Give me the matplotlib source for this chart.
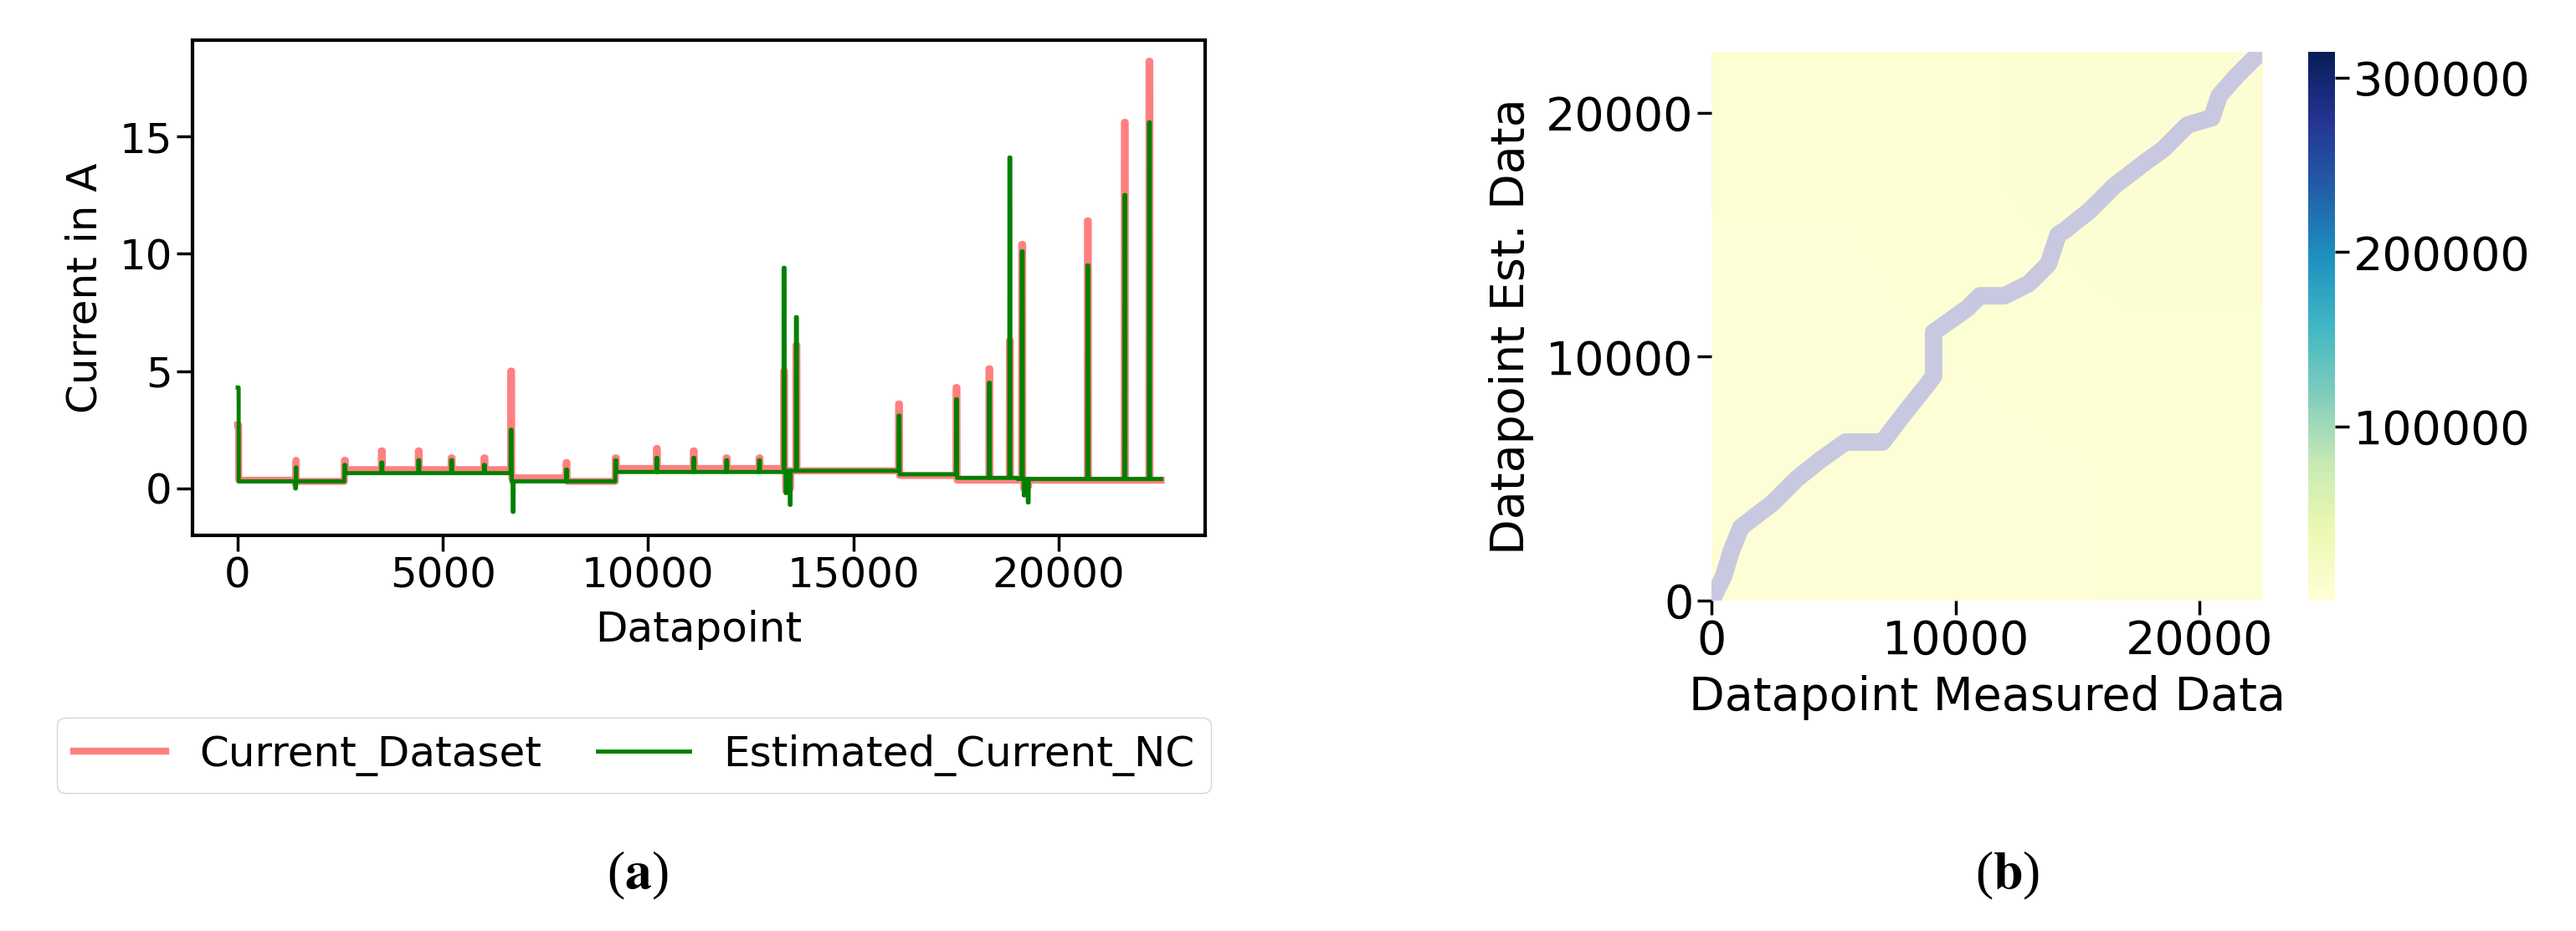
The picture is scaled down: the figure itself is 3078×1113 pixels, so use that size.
import numpy as np
import matplotlib
matplotlib.use("Agg")
import matplotlib.pyplot as plt
from matplotlib.colors import Normalize
from matplotlib.cm import ScalarMappable

# ---- data (a) ----
n_points = 22500
base_bounds = [0, 1400, 2600, 6650, 8000, 9200, 13300, 16100, 17500, 19000, 22500]
base_red    = [0.35, 0.3, 0.8, 0.45, 0.3, 0.85, 0.75, 0.55, 0.35, 0.35]
base_green  = [0.3, 0.3, 0.65, 0.3, 0.3, 0.7, 0.75, 0.6, 0.45, 0.4]
spike_x     = [0, 1400, 2600, 3500, 4400, 5200, 6000, 6650, 8000, 9200, 10200, 11100,
               11900, 12700, 13300, 13600, 16100, 17500, 18300, 18800, 19100, 20700, 21600, 22200]
spike_red   = [2.7, 1.2, 1.2, 1.6, 1.6, 1.3, 1.3, 5.0, 1.1, 1.3, 1.7, 1.6,
               1.3, 1.3, 5.0, 6.1, 3.6, 4.3, 5.1, 6.3, 10.4, 11.4, 15.6, 18.2]
spike_green = [4.3, 0.9, 1.0, 1.1, 1.2, 1.2, 1.0, 2.5, 0.8, 1.2, 1.3, 1.3,
               1.2, 1.2, 9.4, 7.3, 3.1, 3.8, 4.5, 14.1, 10.1, 9.5, 12.5, 15.6]
dip_x       = [1400, 6700, 13350, 13450, 19150, 19250]
dip_red     = [0.2, 0.3, -0.1, 0.0, 0.0, 0.1]
dip_green   = [0.0, -1.0, -0.2, -0.7, -0.3, -0.6]

# ---- data (b) ----
path_measured  = [0, 500, 800, 1200, 2500, 3500, 4500, 5500, 7000, 8000, 8800, 9100, 9100,
                  10500, 11000, 12000, 13000, 13800, 14200, 14500, 15500, 16500, 17800, 18500,
                  19500, 20500, 20800, 21500, 22000, 22500]
path_estimated = [0, 1000, 2000, 3000, 4000, 5000, 5800, 6500, 6500, 7800, 8800, 9200, 11000,
                  12000, 12500, 12500, 13000, 13800, 15000, 15200, 16000, 17000, 18000, 18500,
                  19500, 19800, 20700, 21500, 22000, 22500]
cost_grid = [[4000, 5000], [5000, 7000]]
cbar_ticks = [100000, 200000, 300000]

def build(bases, sx, sy, dx, dy):
    xs = np.arange(n_points)
    idx = np.searchsorted(base_bounds, xs, side="right") - 1
    idx = np.clip(idx, 0, len(bases) - 1)
    y = np.array(bases, dtype=float)[idx]
    for x0, v in zip(sx, sy):
        y[x0:x0 + 25] = v
    for x0, v in zip(dx, dy):
        y[x0:x0 + 20] = v
    return xs, y

fig = plt.figure(figsize=(30.78, 11.13), dpi=100)
fs = 36

ax = fig.add_axes([230/3078, 1-640/1113, (1440-230)/3078, (640-48)/1113])
xr, yr = build(base_red, spike_x, spike_red, dip_x, dip_red)
xg, yg = build(base_green, spike_x, spike_green, dip_x, dip_green)
l1, = ax.plot(xr, yr, color="#ff8080", lw=6, label="Current_Dataset")
l2, = ax.plot(xg, yg, color="green", lw=3.5, label="Estimated_Current_NC")
ax.set_xlim(-1100, 23570)
ax.set_ylim(-2.0, 19.1)
ax.set_xticks([0, 5000, 10000, 15000, 20000])
ax.set_yticks([0, 5, 10, 15])
ax.tick_params(labelsize=fs, length=14, width=2.5)
for s in ax.spines.values():
    s.set_linewidth(3)
ax.set_xlabel("Datapoint", fontsize=fs, labelpad=12)
ax.set_ylabel("Current in A", fontsize=fs, labelpad=12)

fig.legend(handles=[l1, l2], loc="center", ncol=2, fontsize=fs,
           bbox_to_anchor=(43/3078, 1-952/1113, (1472-43)/3078, 99/1113),
           mode="expand", frameon=True, fancybox=True, handlelength=2.2, columnspacing=2.5)

# heatmap
axh = fig.add_axes([2045/3078, 1-718/1113, (2703-2045)/3078, (718-62)/1113])
norm = Normalize(vmin=0, vmax=315000)
axh.imshow(np.array(cost_grid), cmap="YlGnBu", norm=norm, origin="lower",
           extent=[0, 22560, 0, 22500], aspect="auto", interpolation="bilinear")
axh.plot(path_measured, path_estimated, color="#c8c8e0", lw=15, solid_capstyle="round")
axh.set_xlim(0, 22560)
axh.set_ylim(0, 22500)
for s in axh.spines.values():
    s.set_visible(False)
fs2 = 40
axh.set_xticks([0, 10000, 20000])
axh.set_yticks([0, 10000, 20000])
axh.tick_params(labelsize=fs2, length=12, width=2.5)
axh.set_xlabel("Datapoint Measured Data", fontsize=fs2, labelpad=10)
axh.set_ylabel("Datapoint Est. Data", fontsize=fs2, labelpad=10)

cax = fig.add_axes([2758/3078, 1-718/1113, 32/3078, (718-62)/1113])
cb = fig.colorbar(ScalarMappable(norm=norm, cmap="YlGnBu"), cax=cax)
cb.outline.set_visible(False)
cb.set_ticks(cbar_ticks)
cb.ax.tick_params(labelsize=fs2, length=12, width=2.5)

fig.text(762/3078, 1-1047/1113, r"($\mathbf{a}$)", fontsize=46, family="Liberation Serif",
         math_fontfamily="stix", ha="center", va="center")
fig.text(2399/3078, 1-1047/1113, r"($\mathbf{b}$)", fontsize=46, family="Liberation Serif",
         math_fontfamily="stix", ha="center", va="center")

fig.savefig("out.png", dpi=100)
